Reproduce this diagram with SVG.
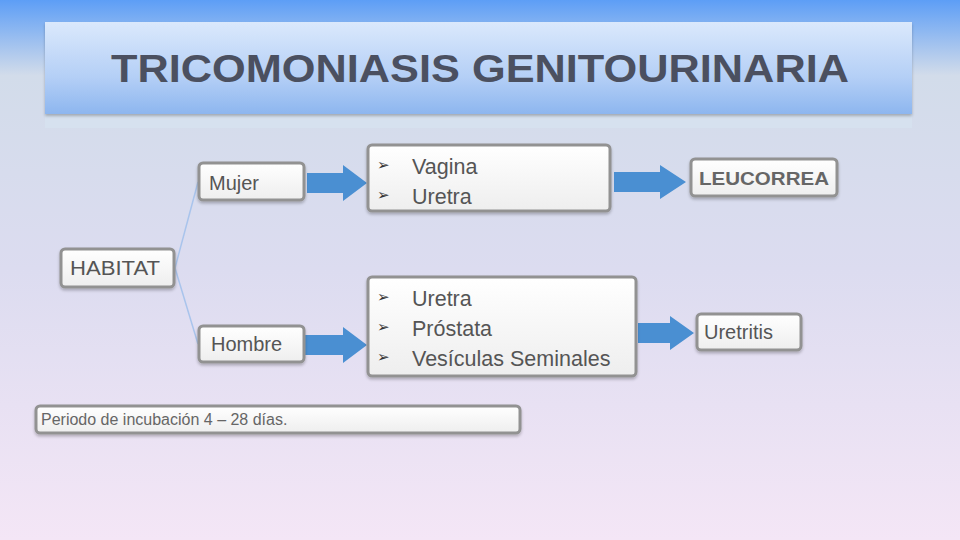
<svg xmlns="http://www.w3.org/2000/svg" width="960" height="540" viewBox="0 0 960 540">
<defs>
<linearGradient id="bg" x1="0" y1="0" x2="0" y2="1">
<stop offset="0" stop-color="#5d9ef6"/>
<stop offset="0.09" stop-color="#a9c6ee"/>
<stop offset="0.14" stop-color="#d2dcea"/>
<stop offset="0.5" stop-color="#dcdcf0"/>
<stop offset="1" stop-color="#f4e6f6"/>
</linearGradient>
<linearGradient id="tb" x1="0" y1="0" x2="0" y2="1">
<stop offset="0" stop-color="#dbe9fc"/>
<stop offset="0.6" stop-color="#b4cff6"/>
<stop offset="1" stop-color="#8db6ef"/>
</linearGradient>
<linearGradient id="nb" x1="0" y1="0" x2="0" y2="1">
<stop offset="0" stop-color="#ffffff"/>
<stop offset="1" stop-color="#eeeeee"/>
</linearGradient>
<filter id="sh" x="-10%" y="-20%" width="120%" height="150%">
<feGaussianBlur in="SourceAlpha" stdDeviation="1.5"/>
<feOffset dy="1.5"/>
<feComponentTransfer><feFuncA type="linear" slope="0.25"/></feComponentTransfer>
<feMerge><feMergeNode/><feMergeNode in="SourceGraphic"/></feMerge>
</filter>
</defs>
<style>
.node{fill:url(#nb);stroke:#929292;stroke-width:3;filter:url(#sh)}
.lbl{font-family:"Liberation Sans",Arial,sans-serif;font-size:20px;fill:#555}
.item{font-family:"Liberation Sans",Arial,sans-serif;font-size:21.5px;fill:#555}
.bul{font-family:"DejaVu Sans",sans-serif;font-size:15px;fill:#333}
.arr{fill:#4a8fd2}
.ln{stroke:#a9c4ec;stroke-width:1.5;fill:none}
</style>
<rect x="0" y="0" width="960" height="540" fill="url(#bg)"/>
<g id="title">
<rect x="45" y="112" width="867" height="16" fill="#d6e1ef" opacity="0.9"/>
<rect x="45" y="22" width="867" height="92" fill="url(#tb)" filter="url(#sh)"/>
<text x="480" y="82" text-anchor="middle" font-family="Liberation Sans,Arial,sans-serif" font-weight="bold" font-size="38" fill="#4b5060" textLength="738" lengthAdjust="spacingAndGlyphs">TRICOMONIASIS GENITOURINARIA</text>
</g>
<g id="connectors">
<path class="ln" d="M175 268 L198 182"/>
<path class="ln" d="M175 268 L198 344"/>
<polygon class="arr" points="307,173 343,173 343,165 367,183 343,201 343,193 307,193"/>
<polygon class="arr" points="614,172 660,172 660,165 686,182 660,199 660,192 614,192"/>
<polygon class="arr" points="305,335 343,335 343,327 367,345 343,363 343,355 305,355"/>
<polygon class="arr" points="638,323 670,323 670,316 694,333 670,350 670,343 638,343"/>
</g>
<g id="habitat">
<rect class="node" x="61" y="249" width="113" height="38" rx="4"/>
<text class="lbl" x="70" y="275" textLength="90" lengthAdjust="spacingAndGlyphs">HABITAT</text>
</g>
<g id="mujer">
<rect class="node" x="199" y="163" width="105" height="37" rx="4"/>
<text class="lbl" x="209" y="190">Mujer</text>
</g>
<g id="hombre">
<rect class="node" x="199" y="326" width="105" height="36" rx="4"/>
<text class="lbl" x="211" y="351">Hombre</text>
</g>
<g id="organos-mujer">
<rect class="node" x="368" y="145" width="242" height="66" rx="4"/>
<text class="bul" x="377" y="170">➢</text>
<text class="item" x="412" y="174">Vagina</text>
<text class="bul" x="377" y="200">➢</text>
<text class="item" x="412" y="204">Uretra</text>
</g>
<g id="organos-hombre">
<rect class="node" x="368" y="277" width="268" height="99" rx="4"/>
<text class="bul" x="377" y="302">➢</text>
<text class="item" x="412" y="306">Uretra</text>
<text class="bul" x="377" y="332">➢</text>
<text class="item" x="412" y="336">Próstata</text>
<text class="bul" x="377" y="362">➢</text>
<text class="item" x="412" y="366">Vesículas Seminales</text>
</g>
<g id="leucorrea">
<rect class="node" x="691" y="159" width="146" height="37" rx="4"/>
<text x="699" y="185" font-family="Liberation Sans,Arial,sans-serif" font-size="18" font-weight="bold" fill="#666" textLength="130" lengthAdjust="spacingAndGlyphs">LEUCORREA</text>
</g>
<g id="uretritis">
<rect class="node" x="697" y="314" width="104" height="36" rx="4"/>
<text class="lbl" x="704" y="339">Uretritis</text>
</g>
<g id="incubacion">
<rect class="node" x="36" y="406" width="484" height="27" rx="4"/>
<text x="41" y="425" font-family="Liberation Sans,Arial,sans-serif" font-size="16" fill="#666">Periodo de incubación 4 – 28 días.</text>
</g>
</svg>
